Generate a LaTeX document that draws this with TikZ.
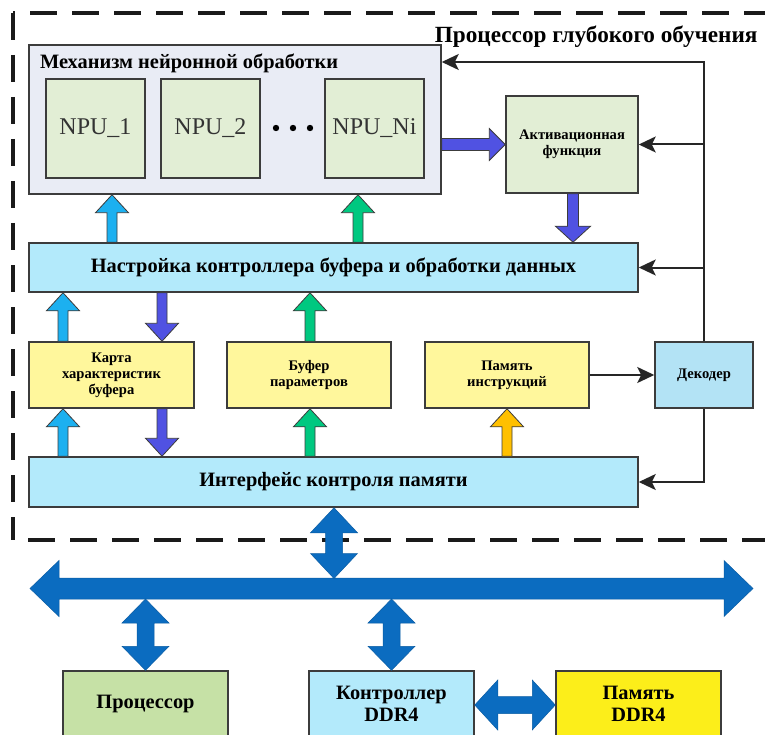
\documentclass[tikz,border=0pt]{standalone}
\usepackage{fontspec}
\setmainfont{Liberation Serif}
\usetikzlibrary{calc,arrows.meta}

\definecolor{frameblk}{HTML}{1A1A1A}
\definecolor{edgegray}{HTML}{3C3C3C}
\definecolor{nemfill}{HTML}{E9ECF5}
\definecolor{npufill}{HTML}{E2EED5}
\definecolor{cyanfill}{HTML}{B3EAFB}
\definecolor{decfill}{HTML}{B3E3F5}
\definecolor{paleyel}{HTML}{FFF79C}
\definecolor{cpufill}{HTML}{C6E1A6}
\definecolor{ddryel}{HTML}{FCEE1A}
\definecolor{arrcyan}{HTML}{1CB0F0}
\definecolor{arrviolet}{HTML}{5052E2}
\definecolor{arrgreen}{HTML}{00C880}
\definecolor{arrorange}{HTML}{FFC000}
\definecolor{busblue}{HTML}{0B6CC0}
\definecolor{npugray}{HTML}{333333}

% single-headed block arrow: style, tail, tip, shaft half-width, head half-width, head length
\newcommand\blockarrow[6]{%
  \coordinate (bas) at (#2);
  \coordinate (bat) at (#3);
  \coordinate (bah) at ($(bat)!#6!(bas)$);
  \draw[#1] ($(bas)!#4!90:(bat)$) -- ($(bah)!#4!90:(bat)$) -- ($(bah)!#5!90:(bat)$)
    -- (bat) -- ($(bah)!#5!-90:(bat)$) -- ($(bah)!#4!-90:(bat)$) -- ($(bas)!#4!-90:(bat)$) -- cycle;}

% double-headed block arrow: style, end A, end B, shaft half-width, head half-width, head length
\newcommand\blockdouble[6]{%
  \coordinate (bda) at (#2);
  \coordinate (bdb) at (#3);
  \coordinate (bdha) at ($(bda)!#6!(bdb)$);
  \coordinate (bdhb) at ($(bdb)!#6!(bda)$);
  \draw[#1] (bda) -- ($(bdha)!#5!90:(bdb)$) -- ($(bdha)!#4!90:(bdb)$) -- ($(bdhb)!#4!90:(bdb)$)
    -- ($(bdhb)!#5!90:(bdb)$) -- (bdb) -- ($(bdhb)!#5!-90:(bdb)$) -- ($(bdhb)!#4!-90:(bdb)$)
    -- ($(bdha)!#4!-90:(bdb)$) -- ($(bdha)!#5!-90:(bdb)$) -- cycle;}

\tikzset{
  box/.style={draw=edgegray, line width=1.5pt, inner sep=0pt, align=center},
  bigtxt/.style={font=\fontsize{20.4}{22}\selectfont\bfseries},
  smalltxt/.style={font=\fontsize{14.6}{16.2}\selectfont\bfseries},
  npubox/.style={box, fill=npufill, minimum width=99pt, minimum height=99pt,
    font=\fontsize{24}{26}\selectfont, text=npugray},
  midbox/.style={box, fill=paleyel, minimum width=164pt, minimum height=66pt, smalltxt},
  wide/.style={box, fill=cyanfill, minimum width=609pt, bigtxt},
  lowbox/.style={box, minimum width=165pt, minimum height=66pt, bigtxt},
  fatc/.style={draw=edgegray, line width=0.8pt, fill=#1},
  busarrow/.style={draw=busblue!85!black, line width=0.5pt, fill=busblue},
  ctrl/.style={draw=black!85, line width=2pt},
  ctrlarrow/.style={ctrl, -{Stealth[length=17pt, width=16pt, inset=4pt]}},
  framedash/.style={draw=frameblk, line width=3.5pt, dash pattern=on 27pt off 15pt}
}

\begin{document}
\begin{tikzpicture}[x=1pt, y=-1pt]
\useasboundingbox (0,0) rectangle (765,735);
\clip (0,0) rectangle (765,735);
\fill[white] (0,0) rectangle (765,735);

% dashed outline of the deep learning processor
\draw[framedash, dash phase=25pt] (13,13) -- (790,13);
\draw[framedash] (13,13) -- (13,540);
\draw[framedash, dash phase=27pt] (13,540) -- (790,540);
\node[font=\fontsize{23.2}{25}\selectfont\bfseries, anchor=east] (ttl) at (761,37) {Процессор глубокого обучения};

% neural processing engine
\node[box, fill=nemfill, minimum width=412pt, minimum height=149pt] (nem) at (235,119.5) {};
\node[bigtxt, anchor=west] (nemttl) at (36.5,63) {Механизм нейронной обработки};
\node[npubox] (npu1) at (95.5,128.5) {NPU\_1};
\node[npubox] (npu2) at (210.5,128.5) {NPU\_2};
\node[npubox] (npun) at (374.5,128.5) {NPU\_Ni};
\foreach \dx in {276,293,310} \fill[black] (\dx,128) circle (3.2pt);

\node[box, fill=npufill, minimum width=132pt, minimum height=97pt, smalltxt] (act) at (572,144.5) {Активационная\\функция};

\node[wide, minimum height=49pt] (bctl) at (333.5,267.5) {Настройка контроллера буфера и обработки данных};

\node[midbox, minimum width=165pt] (fmap) at (111.5,375) {Карта\\характеристик\\буфера};
\node[midbox] (pbuf) at (309,375) {Буфер\\параметров};
\node[midbox] (imem) at (507,375) {Память\\инструкций};
\node[box, fill=decfill, minimum width=98pt, minimum height=66pt, smalltxt] (dec) at (704,375) {Декодер};

\node[wide, minimum height=50pt] (mif) at (333.5,482) {Интерфейс контроля памяти};

% system components below the bus
\node[lowbox, fill=cpufill] (cpu) at (145.5,704) {Процессор};
\node[lowbox, fill=cyanfill] (ddrc) at (391.5,704) {Контроллер\\DDR4};
\node[lowbox, fill=ddryel] (ddrm) at (638.5,704) {Память\\DDR4};

% column positions of the block arrows
\coordinate (ca) at (112,0);
\coordinate (cb) at (358,0);
\coordinate (cc) at (573,0);
\coordinate (cd) at (63,0);
\coordinate (ce) at (162,0);
\coordinate (cf) at (310,0);
\coordinate (cg) at (507,0);

% data flow block arrows
\blockarrow{fatc=arrcyan}{bctl.north -| ca}{nem.south -| ca}{5pt}{16.5pt}{18pt}
\blockarrow{fatc=arrgreen}{bctl.north -| cb}{nem.south -| cb}{5pt}{16.5pt}{18pt}
\blockarrow{fatc=arrviolet}{nem.east |- act.west}{act.west}{6pt}{16pt}{16pt}
\blockarrow{fatc=arrviolet}{act.south -| cc}{bctl.north -| cc}{5.5pt}{17.5pt}{16pt}
\blockarrow{fatc=arrcyan}{fmap.north -| cd}{bctl.south -| cd}{5pt}{16.5pt}{18pt}
\blockarrow{fatc=arrviolet}{bctl.south -| ce}{fmap.north -| ce}{5pt}{16.5pt}{18pt}
\blockarrow{fatc=arrgreen}{pbuf.north -| cf}{bctl.south -| cf}{5pt}{16.5pt}{18pt}
\blockarrow{fatc=arrcyan}{mif.north -| cd}{fmap.south -| cd}{5pt}{16.5pt}{18pt}
\blockarrow{fatc=arrviolet}{fmap.south -| ce}{mif.north -| ce}{5pt}{16.5pt}{18pt}
\blockarrow{fatc=arrgreen}{mif.north -| cf}{pbuf.south -| cf}{5pt}{16.5pt}{18pt}
\blockarrow{fatc=arrorange}{mif.north -| cg}{imem.south -| cg}{5pt}{16.5pt}{18pt}

% control lines from the decoder
\coordinate (fbtop) at (dec.north |- 0,62);
\draw[ctrlarrow] (imem.east) -- (dec.west);
\draw[ctrlarrow] (dec.north) -- (fbtop) -- (fbtop -| nem.east);
\draw[ctrlarrow] (fbtop |- act.east) -- (act.east);
\draw[ctrlarrow] (fbtop |- bctl.east) -- (bctl.east);
\draw[ctrlarrow] (dec.south) |- (mif.east);

% system bus
\coordinate (busl) at (30,588.5);
\coordinate (busr) at (753,588.5);
\coordinate (bustop) at (0,578.5);
\coordinate (busbot) at (0,599);
\blockdouble{busarrow}{busl}{busr}{10.5pt}{28pt}{29pt}
\blockdouble{busarrow}{mif.south -| 334,0}{bustop -| 334,0}{8.5pt}{23.5pt}{25pt}
\blockdouble{busarrow}{busbot -| cpu.north}{cpu.north}{8.5pt}{23.5pt}{24pt}
\blockdouble{busarrow}{busbot -| ddrc.north}{ddrc.north}{8.5pt}{23.5pt}{24pt}
\blockdouble{busarrow}{ddrc.east |- 0,705}{ddrm.west |- 0,705}{8.5pt}{25pt}{23pt}
\end{tikzpicture}
\end{document}
